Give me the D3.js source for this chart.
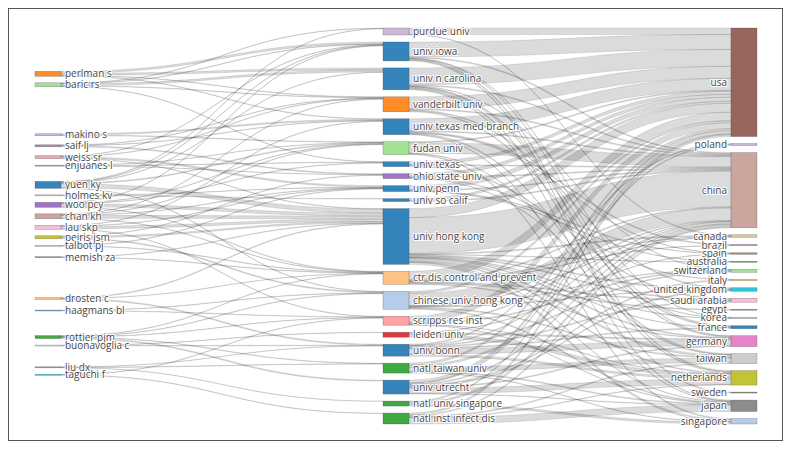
<!DOCTYPE html>
<html>
<head>
<meta charset="utf-8">
<script src="https://cdn.jsdelivr.net/npm/d3@7"></script>
<style>
  body { margin: 0; background: #fff; }
  text { font-family: "Open Sans", sans-serif; font-size: 10px; fill: #444; }
</style>
</head>
<body>
<svg id="chart" width="792" height="454"></svg>
<script>
// ---- data ----
var authors = ["perlman s", "baric rs", "makino s", "saif lj", "weiss sr", "enjuanes l",
  "yuen ky", "holmes kv", "woo pcy", "chan kh", "lau skp", "peiris jsm", "talbot pj",
  "memish za", "drosten c", "haagmans bl", "rottier pjm", "buonavoglia c", "liu dx", "taguchi f"];
var authorColors = ["#ff7f0e", "#98df8a", "#c5b0d5", "#a57d9c", "#e3a3a3", "#8fa3b8",
  "#1f77b4", "#c7c7c7", "#9467bd", "#c49c94", "#f7b6d2", "#bcbd22", "#c7c7c7",
  "#7f7f7f", "#ffbb78", "#6ba6d6", "#2ca02c", "#dbdbdb", "#a07a90", "#17becf"];

var institutions = ["purdue univ", "univ iowa", "univ n carolina", "vanderbilt univ",
  "univ texas med branch", "fudan univ", "univ texas", "ohio state univ", "univ penn",
  "univ so calif", "univ hong kong", "ctr dis control and prevent", "chinese univ hong kong",
  "scripps res inst", "leiden univ", "univ bonn", "natl taiwan univ", "univ utrecht",
  "natl univ singapore", "natl inst infect dis"];
var institutionColors = ["#c5b0d5", "#1f77b4", "#1f77b4", "#ff7f0e", "#1f77b4", "#98df8a",
  "#1f77b4", "#9467bd", "#1f77b4", "#1f77b4", "#1f77b4", "#ffbb78", "#aec7e8",
  "#ff9896", "#d62728", "#1f77b4", "#2ca02c", "#1f77b4", "#2ca02c", "#2ca02c"];

var countries = ["usa", "poland", "china", "canada", "brazil", "spain", "australia",
  "switzerland", "italy", "united kingdom", "saudi arabia", "egypt", "korea", "france",
  "germany", "taiwan", "netherlands", "sweden", "japan", "singapore"];
var countryColors = ["#8c564b", "#c5b0d5", "#c49c94", "#dbc08d", "#b59ac9", "#a47a6a", "#2ca02c",
  "#98df8a", "#ffbb78", "#17becf", "#f7b6d2", "#7f7f7f", "#c7c7c7", "#1f77b4",
  "#e377c2", "#c7c7c7", "#bcbd22", "#7f7f7f", "#7f7f7f", "#aec7e8"];

// author -> institution
var authorLinks = [
  ["perlman s", "univ iowa", 2], ["perlman s", "univ n carolina", 2], ["perlman s", "univ texas med branch", 0.5],
  ["perlman s", "vanderbilt univ", 0.5],
  ["baric rs", "univ n carolina", 2], ["baric rs", "vanderbilt univ", 0.5], ["baric rs", "univ iowa", 0.5],
  ["baric rs", "purdue univ", 0.5], ["baric rs", "univ texas", 0.5],
  ["makino s", "univ texas med branch", 1.25], ["makino s", "fudan univ", 0.75],
  ["saif lj", "ohio state univ", 1], ["saif lj", "univ texas med branch", 0.5], ["saif lj", "vanderbilt univ", 0.5],
  ["weiss sr", "univ penn", 1.5], ["weiss sr", "vanderbilt univ", 0.5], ["weiss sr", "univ iowa", 0.5], ["weiss sr", "univ hong kong", 0.5],
  ["enjuanes l", "univ texas", 0.5], ["enjuanes l", "fudan univ", 0.25], ["enjuanes l", "ohio state univ", 0.25],
  ["yuen ky", "univ hong kong", 4], ["yuen ky", "fudan univ", 1], ["yuen ky", "univ iowa", 0.5],
  ["yuen ky", "chinese univ hong kong", 0.5], ["yuen ky", "univ n carolina", 0.5], ["yuen ky", "purdue univ", 0.5],
  ["holmes kv", "univ so calif", 0.5], ["holmes kv", "univ penn", 0.5],
  ["woo pcy", "univ hong kong", 3], ["woo pcy", "univ texas", 0.5], ["woo pcy", "fudan univ", 0.5],
  ["woo pcy", "univ iowa", 0.5], ["woo pcy", "ctr dis control and prevent", 0.5],
  ["chan kh", "univ hong kong", 3], ["chan kh", "ctr dis control and prevent", 0.5], ["chan kh", "univ penn", 0.5],
  ["chan kh", "fudan univ", 0.5], ["chan kh", "vanderbilt univ", 0.5],
  ["lau skp", "univ hong kong", 2.5], ["lau skp", "univ penn", 0.5], ["lau skp", "scripps res inst", 0.5], ["lau skp", "univ texas med branch", 0.5],
  ["peiris jsm", "univ hong kong", 1.5], ["peiris jsm", "chinese univ hong kong", 1], ["peiris jsm", "ohio state univ", 0.5],
  ["talbot pj", "ctr dis control and prevent", 0.5], ["talbot pj", "univ penn", 0.5],
  ["memish za", "ctr dis control and prevent", 0.5], ["memish za", "univ hong kong", 0.5],
  ["drosten c", "univ bonn", 1], ["drosten c", "univ hong kong", 0.75], ["drosten c", "ctr dis control and prevent", 0.25],
  ["haagmans bl", "scripps res inst", 0.5], ["haagmans bl", "chinese univ hong kong", 0.5],
  ["rottier pjm", "univ utrecht", 1], ["rottier pjm", "scripps res inst", 0.5], ["rottier pjm", "chinese univ hong kong", 0.5],
  ["rottier pjm", "ctr dis control and prevent", 0.5], ["rottier pjm", "natl taiwan univ", 0.5],
  ["buonavoglia c", "univ bonn", 0.5], ["buonavoglia c", "leiden univ", 0.5],
  ["liu dx", "natl taiwan univ", 0.5], ["liu dx", "natl univ singapore", 0.25], ["liu dx", "univ bonn", 0.25],
  ["taguchi f", "natl inst infect dis", 0.5], ["taguchi f", "scripps res inst", 0.5]
];

// institution -> country
var institutionLinks = [
  ["purdue univ", "usa", 6.5], ["purdue univ", "canada", 0.5],
  ["univ iowa", "usa", 15], ["univ iowa", "china", 1], ["univ iowa", "korea", 0.5], ["univ iowa", "sweden", 1],
  ["univ iowa", "netherlands", 1], ["univ iowa", "germany", 0.5],
  ["univ n carolina", "usa", 17], ["univ n carolina", "china", 1], ["univ n carolina", "netherlands", 1], ["univ n carolina", "japan", 1],
  ["univ n carolina", "germany", 1], ["univ n carolina", "france", 0.5], ["univ n carolina", "switzerland", 0.5],
  ["vanderbilt univ", "usa", 12], ["vanderbilt univ", "china", 1], ["vanderbilt univ", "france", 1], ["vanderbilt univ", "united kingdom", 1],
  ["univ texas med branch", "usa", 12], ["univ texas med branch", "china", 1], ["univ texas med branch", "japan", 0.5],
  ["univ texas med branch", "taiwan", 1], ["univ texas med branch", "brazil", 1], ["univ texas med branch", "spain", 0.5],
  ["fudan univ", "china", 10.5], ["fudan univ", "usa", 1], ["fudan univ", "singapore", 1], ["fudan univ", "taiwan", 0.5],
  ["univ texas", "usa", 3], ["univ texas", "china", 1], ["univ texas", "saudi arabia", 1],
  ["ohio state univ", "usa", 3], ["ohio state univ", "korea", 0.5], ["ohio state univ", "china", 1], ["ohio state univ", "italy", 0.5],
  ["univ penn", "usa", 4], ["univ penn", "china", 1], ["univ penn", "spain", 0.5], ["univ penn", "australia", 0.5],
  ["univ so calif", "usa", 2], ["univ so calif", "china", 1],
  ["univ hong kong", "china", 36], ["univ hong kong", "usa", 9], ["univ hong kong", "taiwan", 2], ["univ hong kong", "singapore", 2],
  ["univ hong kong", "saudi arabia", 1], ["univ hong kong", "germany", 1], ["univ hong kong", "netherlands", 1],
  ["univ hong kong", "united kingdom", 1], ["univ hong kong", "canada", 1], ["univ hong kong", "australia", 0.5],
  ["univ hong kong", "france", 0.5], ["univ hong kong", "korea", 0.5], ["univ hong kong", "japan", 0.5],
  ["ctr dis control and prevent", "usa", 8.5], ["ctr dis control and prevent", "china", 1], ["ctr dis control and prevent", "saudi arabia", 1],
  ["ctr dis control and prevent", "egypt", 1], ["ctr dis control and prevent", "canada", 0.5], ["ctr dis control and prevent", "germany", 0.5],
  ["ctr dis control and prevent", "brazil", 0.5],
  ["chinese univ hong kong", "china", 12.5], ["chinese univ hong kong", "usa", 2], ["chinese univ hong kong", "taiwan", 1],
  ["chinese univ hong kong", "japan", 1], ["chinese univ hong kong", "united kingdom", 0.5], ["chinese univ hong kong", "switzerland", 0.5],
  ["chinese univ hong kong", "canada", 0.5],
  ["scripps res inst", "usa", 6], ["scripps res inst", "china", 1], ["scripps res inst", "switzerland", 1],
  ["scripps res inst", "japan", 0.5], ["scripps res inst", "netherlands", 0.5],
  ["leiden univ", "netherlands", 3], ["leiden univ", "germany", 1.5], ["leiden univ", "spain", 0.5],
  ["univ bonn", "germany", 5.5], ["univ bonn", "netherlands", 2], ["univ bonn", "saudi arabia", 1], ["univ bonn", "switzerland", 1],
  ["univ bonn", "france", 1], ["univ bonn", "poland", 1], ["univ bonn", "china", 0.5],
  ["natl taiwan univ", "taiwan", 4.5], ["natl taiwan univ", "usa", 2], ["natl taiwan univ", "china", 2], ["natl taiwan univ", "japan", 1],
  ["natl taiwan univ", "singapore", 0.5],
  ["univ utrecht", "netherlands", 5.5], ["univ utrecht", "usa", 3], ["univ utrecht", "germany", 1], ["univ utrecht", "china", 1],
  ["univ utrecht", "poland", 1], ["univ utrecht", "united kingdom", 1], ["univ utrecht", "italy", 1], ["univ utrecht", "japan", 0.5],
  ["natl univ singapore", "singapore", 2], ["natl univ singapore", "china", 2], ["natl univ singapore", "usa", 1],
  ["natl inst infect dis", "japan", 6.5], ["natl inst infect dis", "usa", 2], ["natl inst infect dis", "china", 1],
  ["natl inst infect dis", "taiwan", 1], ["natl inst infect dis", "netherlands", 0.5]
];

// ---- layout ----
var svg = d3.select('#chart');
var yTop = 28, yBottom = 424, nodeWidth = 26, nodePad = 7, authorPad = 6.5;
var colX = d3.scalePoint().domain([0, 1, 2]).range([35, 731]);

var nodes = [], byName = {};
function addColumn(names, colors, col) {
  names.forEach(function(name, i) {
    var n = {name: name, color: colors[i], col: col, sourceLinks: [], targetLinks: []};
    nodes.push(n);
    byName[name] = n;
  });
}
addColumn(authors, authorColors, 0);
addColumn(institutions, institutionColors, 1);
addColumn(countries, countryColors, 2);

var links = authorLinks.concat(institutionLinks).map(function(d) {
  var l = {source: byName[d[0]], target: byName[d[1]], value: d[2]};
  l.source.sourceLinks.push(l);
  l.target.targetLinks.push(l);
  return l;
});

nodes.forEach(function(n) {
  n.value = Math.max(d3.sum(n.sourceLinks, function(l) { return l.value; }),
                     d3.sum(n.targetLinks, function(l) { return l.value; }));
  n.x0 = colX(n.col);
  n.x1 = n.x0 + nodeWidth;
});

var columns = [0, 1, 2].map(function(c) { return nodes.filter(function(n) { return n.col === c; }); });
var ky = d3.min(columns, function(col) {
  return (yBottom - yTop - (col.length - 1) * nodePad) / d3.sum(col, function(n) { return n.value; });
});
var size = d3.scaleLinear().domain([0, 1]).range([0, ky]);

// institutions and countries fill the full height
[columns[1], columns[2]].forEach(function(col) {
  var gap = (yBottom - yTop - d3.sum(col, function(n) { return size(n.value); })) / (col.length - 1);
  var y = yTop;
  col.forEach(function(n) {
    n.y0 = y;
    n.y1 = y + size(n.value);
    y = n.y1 + gap;
  });
});

// authors sit at the weighted centre of the institutions they link to
columns[0].forEach(function(n) {
  var c = d3.sum(n.sourceLinks, function(l) { return l.value * (l.target.y0 + l.target.y1) / 2; }) /
          d3.sum(n.sourceLinks, function(l) { return l.value; });
  var h = size(n.value);
  n.y0 = c - h / 2;
  n.y1 = c + h / 2;
});
var left = columns[0];
for (var it = 0; it < 300; it++) {
  for (var i = 1; i < left.length; i++) {
    var a = left[i - 1], b = left[i], d = a.y1 + authorPad - b.y0;
    if (d > 0) {
      a.y0 -= d / 2; a.y1 -= d / 2;
      b.y0 += d / 2; b.y1 += d / 2;
    }
  }
  if (left[0].y0 < yTop) { var s = yTop - left[0].y0; left[0].y0 += s; left[0].y1 += s; }
  var last = left[left.length - 1];
  if (last.y1 > yBottom) { var s2 = last.y1 - yBottom; last.y0 -= s2; last.y1 -= s2; }
}

// link offsets inside each node
nodes.forEach(function(n) {
  n.sourceLinks.sort(function(a, b) { return a.target.y0 - b.target.y0; });
  n.targetLinks.sort(function(a, b) { return a.source.y0 - b.source.y0; });
  var sy = n.y0;
  n.sourceLinks.forEach(function(l) { l.sy0 = sy; sy += size(l.value); l.sy1 = sy; });
  var ty = n.y0;
  n.targetLinks.forEach(function(l) { l.ty0 = ty; ty += size(l.value); l.ty1 = ty; });
});

function ribbon(l) {
  var x0 = l.source.x1, x1 = l.target.x0, xm = (x0 + x1) / 2;
  return 'M' + x0 + ',' + l.sy0 +
    'C' + xm + ',' + l.sy0 + ' ' + xm + ',' + l.ty0 + ' ' + x1 + ',' + l.ty0 +
    'L' + x1 + ',' + l.ty1 +
    'C' + xm + ',' + l.ty1 + ' ' + xm + ',' + l.sy1 + ' ' + x0 + ',' + l.sy1 + 'Z';
}

// ---- draw ----
svg.append('rect')
  .attr('x', 8.5).attr('y', 8.5)
  .attr('width', 774).attr('height', 432)
  .attr('fill', 'none').attr('stroke', '#555').attr('stroke-width', 1);

svg.append('g').selectAll('path')
  .data(links)
  .enter().append('path')
  .attr('d', ribbon)
  .attr('fill', 'rgba(0,0,0,0.14)')
  .attr('stroke', 'rgba(0,0,0,0.2)')
  .attr('stroke-width', 0.5);

svg.append('g').selectAll('rect')
  .data(nodes)
  .enter().append('rect')
  .attr('x', function(d) { return d.x0; })
  .attr('y', function(d) { return d.y0; })
  .attr('width', nodeWidth)
  .attr('height', function(d) { return Math.max(1, d.y1 - d.y0); })
  .attr('fill', function(d) { return d.color; })
  .attr('fill-opacity', 0.9)
  .attr('stroke', 'rgba(68,68,68,0.5)')
  .attr('stroke-width', 0.5);

svg.append('g').selectAll('text')
  .data(nodes)
  .enter().append('text')
  .attr('x', function(d) { return d.col === 2 ? d.x0 - 4 : d.x1 + 4; })
  .attr('y', function(d) { return (d.y0 + d.y1) / 2; })
  .attr('dy', '0.35em')
  .attr('text-anchor', function(d) { return d.col === 2 ? 'end' : 'start'; })
  .attr('stroke', '#fff')
  .attr('stroke-width', 2)
  .attr('stroke-linejoin', 'round')
  .attr('paint-order', 'stroke')
  .text(function(d) { return d.name; });
</script>
</body>
</html>
